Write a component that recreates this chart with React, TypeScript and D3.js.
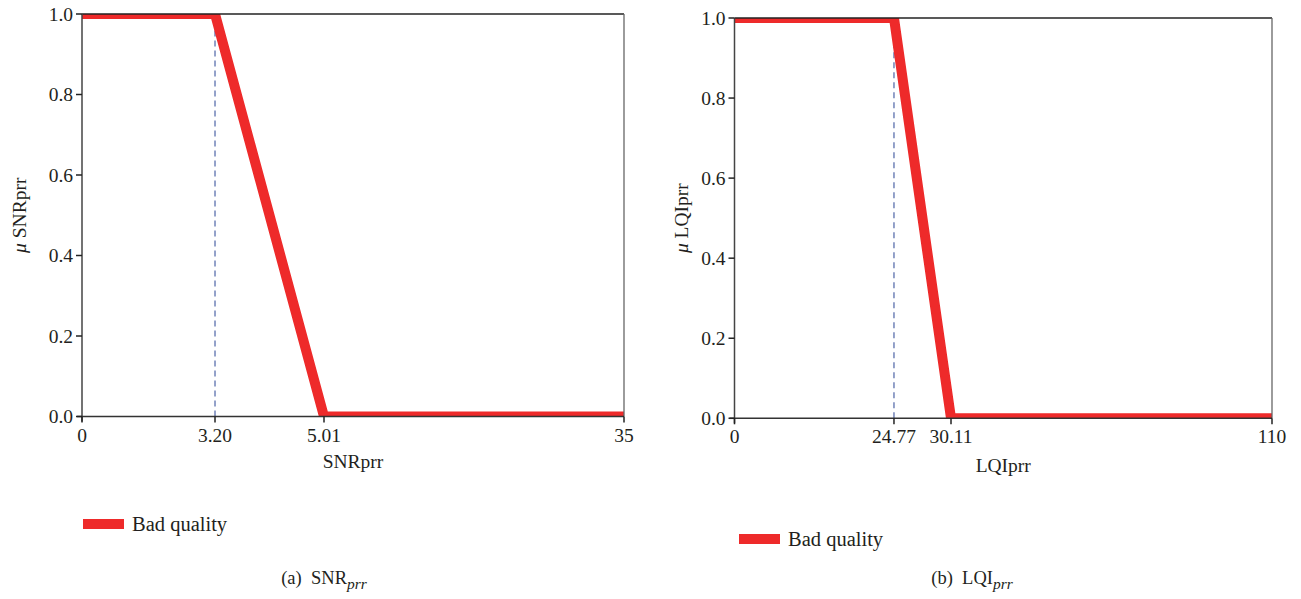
import React from 'react';
import * as d3 from 'd3';

// membership function breakpoints
const snrX = [0, 3.2, 5.01, 35];
const snrMu = [1, 1, 0, 0];
const snrTickLabels = ['0', '3.20', '5.01', '35'];

const lqiX = [0, 24.77, 30.11, 110];
const lqiMu = [1, 1, 0, 0];
const lqiTickLabels = ['0', '24.77', '30.11', '110'];

const yTicks = [0, 0.2, 0.4, 0.6, 0.8, 1.0];
const legendLabel = 'Bad quality';

const RED = '#ee2a2a';
const FONT = '"Liberation Serif", "DejaVu Serif", serif';

interface PanelProps {
    id: string;
    xs: number[];
    mu: number[];
    tickLabels: string[];
    frac: number[]; // where each tick sits along the axis (axis is not linear in the source)
    left: number;
    right: number;
    top: number;
    bottom: number;
    xTitle: string;
    yTitle: string;
    xTitleY: number;
    yTitleX: number;
    legendX: number;
    legendY: number;
    capLabel: string;
    capMain: string;
    capX: number;
    capY: number;
}

const Panel: React.FC<PanelProps> = (p) => {
    const w = p.right - p.left;
    const xScale = d3.scaleLinear()
        .domain(p.xs)
        .range(p.frac.map(f => p.left + f * w));
    const yScale = d3.scaleLinear().domain([0, 1]).range([p.bottom, p.top]);

    const pts: [number, number][] = p.xs.map((x, i) => [x, p.mu[i]]);
    const line = d3.line<[number, number]>()
        .x(d => xScale(d[0]))
        .y(d => yScale(d[1]));

    const knee = p.xs[1];
    const midY = (p.top + p.bottom) / 2;

    return (
        <g>
            <defs>
                <clipPath id={`clip-${p.id}`}>
                    <rect x={p.left} y={p.top} width={w} height={p.bottom - p.top} />
                </clipPath>
            </defs>
            {/* dashed marker at the knee */}
            <line x1={xScale(knee)} x2={xScale(knee)} y1={p.bottom} y2={p.top}
                stroke="#4d63a6" strokeWidth={1.2} strokeDasharray="6,4" />
            <path d={line(pts) || ''} fill="none" stroke={RED} strokeWidth={10}
                strokeLinejoin="miter" clipPath={`url(#clip-${p.id})`} />

            {/* frame */}
            <line x1={p.left} x2={p.right} y1={p.top} y2={p.top} stroke="#222" strokeWidth={1.3} />
            <line x1={p.right} x2={p.right} y1={p.top} y2={p.bottom} stroke="#666" strokeWidth={1.3} />
            <line x1={p.left} x2={p.left} y1={p.top} y2={p.bottom + 5} stroke="#444" strokeWidth={1.5} />
            <line x1={p.left - 5} x2={p.right} y1={p.bottom} y2={p.bottom} stroke="#333" strokeWidth={1.5} />

            {yTicks.map(t => (
                <g key={t}>
                    <line x1={p.left - 6} x2={p.left} y1={yScale(t)} y2={yScale(t)} stroke="#222" strokeWidth={1.5} />
                    <text x={p.left - 9} y={yScale(t)} dy="0.35em" textAnchor="end"
                        fontSize={19.5} fill="#231f20" fontFamily={FONT}>{t.toFixed(1)}</text>
                </g>
            ))}
            {p.xs.map((x, i) => (
                <g key={i}>
                    <line x1={xScale(x)} x2={xScale(x)} y1={p.bottom} y2={p.bottom + 6} stroke="#222" strokeWidth={1.5} />
                    <text x={xScale(x)} y={p.bottom + 25} textAnchor="middle"
                        fontSize={19.5} fill="#231f20" fontFamily={FONT}>{p.tickLabels[i]}</text>
                </g>
            ))}

            <text x={(p.left + p.right) / 2} y={p.xTitleY} textAnchor="middle"
                fontSize={19.5} fill="#231f20" fontFamily={FONT}>{p.xTitle}</text>
            <text transform={`translate(${p.yTitleX},${midY}) rotate(-90)`} textAnchor="middle"
                fontSize={19.5} fill="#231f20" fontFamily={FONT}>
                <tspan fontStyle="italic">μ</tspan> {p.yTitle}
            </text>

            <rect x={p.legendX} y={p.legendY - 5} width={41} height={10} fill={RED} />
            <text x={p.legendX + 49} y={p.legendY} dy="0.35em" fontSize={20.5}
                fill="#231f20" fontFamily={FONT}>{legendLabel}</text>

            <text x={p.capX} y={p.capY} textAnchor="middle" fontSize={18.5} fill="#231f20" fontFamily={FONT}>
                {p.capLabel}{'\u00a0\u00a0'}{p.capMain}
                <tspan fontStyle="italic" fontSize={15.5} dy={5}>prr</tspan>
            </text>
        </g>
    );
};

export default function App() {
    return (
        <svg width={1301} height={599} style={{ position: 'absolute', left: 0, top: 0, background: '#fff' }}>
            <Panel id="snr" xs={snrX} mu={snrMu} tickLabels={snrTickLabels}
                frac={[0, 0.2454, 0.4465, 1]}
                left={82} right={624} top={14} bottom={416.5}
                xTitle="SNRprr" yTitle="SNRprr" xTitleY={468} yTitleX={26}
                legendX={83} legendY={524}
                capLabel="(a)" capMain="SNR" capX={324} capY={584} />
            <Panel id="lqi" xs={lqiX} mu={lqiMu} tickLabels={lqiTickLabels}
                frac={[0, 0.2967, 0.4028, 1]}
                left={734.5} right={1272} top={18} bottom={418.3}
                xTitle="LQIprr" yTitle="LQIprr" xTitleY={472} yTitleX={688}
                legendX={739} legendY={539}
                capLabel="(b)" capMain="LQI" capX={972} capY={584} />
        </svg>
    );
}
